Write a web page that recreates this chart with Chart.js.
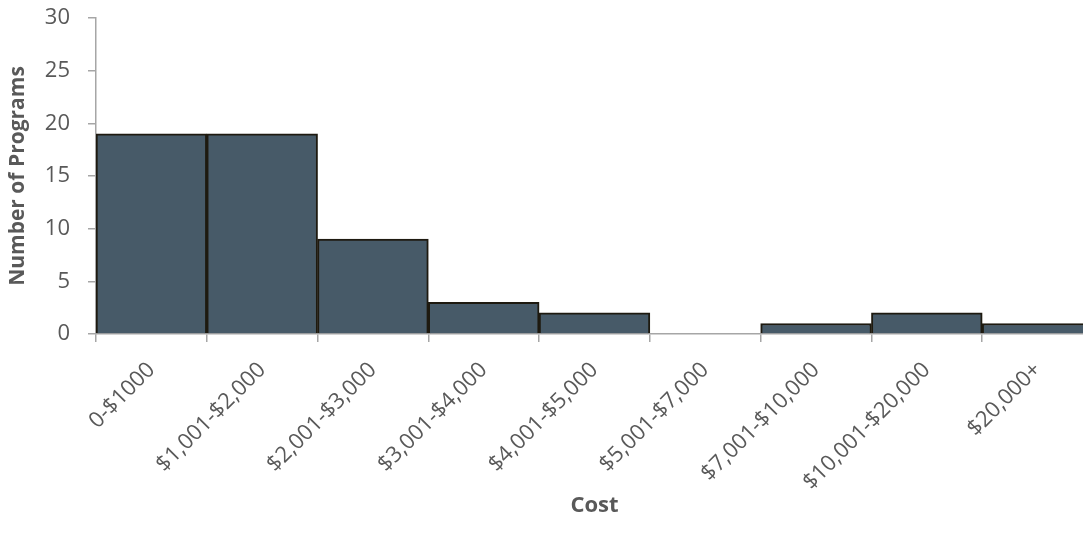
<!DOCTYPE html>
<html>
<head>
<meta charset="utf-8">
<script src="https://cdn.jsdelivr.net/npm/chart.js@4/dist/chart.umd.min.js"></script>
<style>
  html, body { margin: 0; padding: 0; background: #ffffff; overflow: hidden; }
  #wrap { position: relative; width: 1093px; height: 540px; }
</style>
</head>
<body>
<div id="wrap"><canvas id="c"></canvas></div>
<script>
// Cost bands and how many programs fall in each
const costBands = ['0-$1000', '$1,001-$2,000', '$2,001-$3,000', '$3,001-$4,000', '$4,001-$5,000',
                   '$5,001-$7,000', '$7,001-$10,000', '$10,001-$20,000', '$20,000+'];
const programCounts = [19, 19, 9, 3, 2, 0, 1, 2, 1];
const yTicks = [0, 5, 10, 15, 20, 25, 30];

const textColor = '#595959';
const axisColor = '#a6a6a6';
const fontFamily = '"Open Sans", "Liberation Sans", sans-serif';

new Chart(document.getElementById('c'), {
  type: 'bar',
  data: {
    labels: costBands,
    datasets: [{
      label: 'Programs',
      data: programCounts,
      backgroundColor: '#475a68',
      borderColor: '#1e1a10',
      borderWidth: 2,
      barPercentage: 1.0,
      categoryPercentage: 1.0
    }]
  },
  options: {
    responsive: true,
    maintainAspectRatio: false,
    animation: false,
    layout: { padding: { top: 0, right: 0, bottom: 0, left: 0 } },
    plugins: { legend: { display: false }, tooltip: { enabled: false } },
    scales: {
      x: {
        offset: true,
        grid: {
          offset: true,
          drawOnChartArea: false,
          drawTicks: true,
          tickLength: 8,
          color: axisColor,
          lineWidth: 1.5
        },
        border: { color: axisColor, width: 1.5 },
        ticks: {
          autoSkip: false,
          minRotation: 45,
          maxRotation: 45,
          padding: 15,
          color: textColor,
          font: { family: fontFamily, size: 22 }
        },
        title: {
          display: true,
          text: 'Cost',
          color: textColor,
          font: { family: fontFamily, size: 22, weight: 'bold' },
          padding: { top: 0, bottom: 21 }
        },
        afterFit(scale) { scale.height = 206; }
      },
      y: {
        min: 0,
        max: 30,
        afterBuildTicks(scale) { scale.ticks = yTicks.map(v => ({ value: v })); },
        grid: {
          drawOnChartArea: false,
          drawTicks: true,
          tickLength: 8,
          color: axisColor,
          lineWidth: 1.5
        },
        border: { color: axisColor, width: 1.5 },
        ticks: {
          padding: 18,
          color: textColor,
          font: { family: fontFamily, size: 22 }
        },
        title: {
          display: true,
          text: 'Number of Programs',
          color: textColor,
          font: { family: fontFamily, size: 21, weight: 'bold' },
          padding: { top: 5, bottom: 4 }
        },
        afterFit(scale) {
          scale.width = 96;
          scale.paddingTop = 18;
          scale.paddingBottom = 0;
        }
      }
    }
  }
});
</script>
</body>
</html>
